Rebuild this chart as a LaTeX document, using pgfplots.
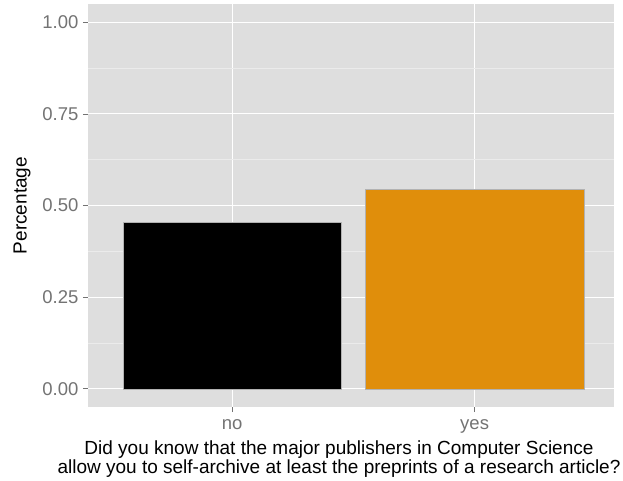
\documentclass[border=0pt]{standalone}
\usepackage{pgfplots}
\pgfplotsset{compat=1.18}
\usetikzlibrary{calc}
\usepackage{fontspec}
\setmainfont{Liberation Sans}
\definecolor{panelbg}{HTML}{DEDEDE}
\definecolor{minorgrid}{HTML}{EBEBEB}
\definecolor{ggorange}{HTML}{E08E0B}
\definecolor{tickgrey}{HTML}{737373}
\begin{document}
\begin{tikzpicture}
\begin{axis}[
  scale only axis, width=526pt, height=403pt,
  xmin=0.405, xmax=2.575, ymin=-0.05, ymax=1.05,
  axis background/.style={fill=panelbg},
  axis line style={draw=none},
  xtick={1,2}, xticklabels={no,yes},
  ytick={0,0.25,0.5,0.75,1},
  yticklabels={0.00,0.25,0.50,0.75,1.00},
  minor ytick={0.125,0.375,0.625,0.875},
  grid=both,
  major grid style={white, line width=1.1pt},
  minor grid style={minorgrid, line width=0.5pt},
  tick style={tickgrey, line width=0.6pt},
  major tick length=5pt, minor tick length=0pt,
  tick align=outside, xtick pos=bottom, ytick pos=left,
  ticklabel style={font=\fontsize{18.5}{18.5}\selectfont, text=tickgrey},
  yticklabel style={xshift=-1pt},
  xticklabel style={yshift=-4pt},
  ylabel={Percentage},
  xlabel={Did you know that the major publishers in Computer Science\\allow you to self-archive at least the preprints of a research article?},
  xlabel style={align=center, font=\fontsize{19}{18.5}\selectfont, yshift=-1pt, xshift=-12pt},
  ylabel style={font=\fontsize{19}{18}\selectfont, yshift=5pt},
  clip=false,
]
\addplot[ybar, bar shift=0pt, bar width=0.9, fill=black, draw=gray!60, line width=0.3pt] coordinates {(1,0.455)};
\addplot[ybar, bar shift=0pt, bar width=0.9, fill=ggorange, draw=gray!60, line width=0.3pt] coordinates {(2,0.545)};
\coordinate (ll) at (rel axis cs:0,0);
\coordinate (ur) at (rel axis cs:1,1);
\end{axis}
\pgfresetboundingbox
\path ($(ll)+(-88pt,-73pt)$) rectangle ($(ur)+(9pt,4pt)$);
\end{tikzpicture}
\end{document}
